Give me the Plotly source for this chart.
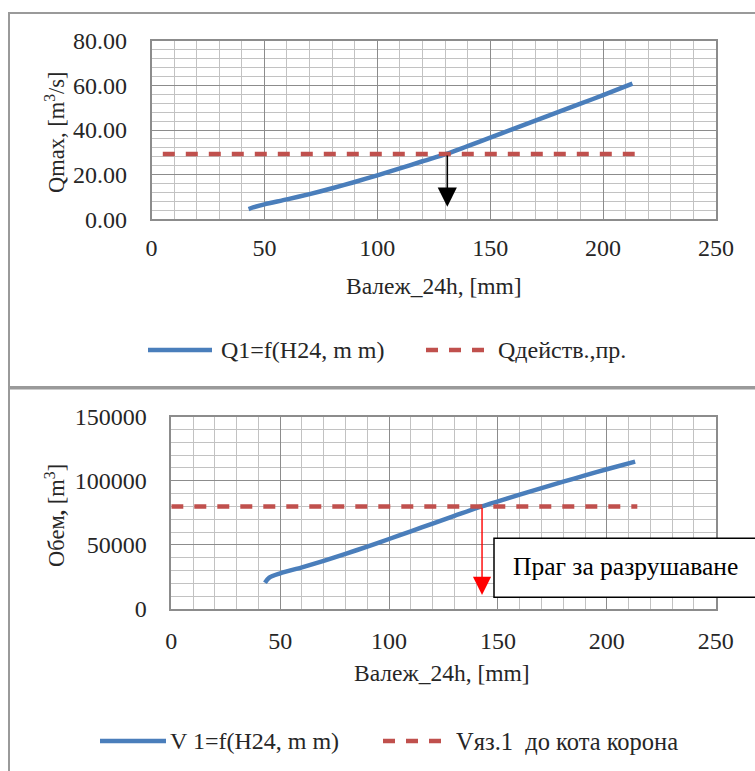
import plotly.graph_objects as go

# ---- data -------------------------------------------------------------
# rainfall over 24 h, mm
rain_q = [43, 45, 50, 60, 70, 80, 90, 100, 110, 120, 131, 140, 150, 160, 170, 180, 190, 200, 213]
# peak discharge Q1, m3/s
q_max = [4.6, 5.3, 6.7, 8.9, 11.3, 13.9, 16.7, 19.7, 22.8, 26.0, 29.4, 32.8, 36.6, 40.4, 44.2, 48.0, 51.8, 55.6, 60.8]
# operating discharge threshold
q_lim_x = [5, 214]
q_lim_y = [29.3, 29.3]
q_cross_x = 131
q_arrow_end = 5.6

rain_v = [43, 45, 50, 60, 70, 80, 90, 100, 110, 120, 130, 142.5, 150, 160, 170, 180, 190, 200, 213]
# flood volume V1, m3
vol = [20500, 24500, 27800, 32500, 37600, 43000, 48700, 54600, 60600, 66600, 72600, 80000,
       84000, 89200, 94300, 99300, 104200, 109000, 115000]
# reservoir volume up to crest level
v_lim_x = [0, 214]
v_lim_y = [80000, 80000]
v_cross_x = 142.7
v_arrow_end = 10900

x_ticks = [0, 50, 100, 150, 200, 250]

# ---- styling ----------------------------------------------------------
W, H = 755, 771
FONT = "Liberation Serif"
BLUE = "#4a7ebb"
RED = "#c0504d"
MAJOR = "#8c8c8c"
MINOR = "#c2c2c2"


def px(x):
    return x / W


def py(y):
    return 1 - y / H


fig = go.Figure()

fig.add_trace(go.Scatter(x=rain_q, y=q_max, mode="lines", xaxis="x", yaxis="y",
                         line=dict(color=BLUE, width=4.5, shape="spline", smoothing=0.8),
                         showlegend=False))
fig.add_trace(go.Scatter(x=q_lim_x, y=q_lim_y, mode="lines", xaxis="x", yaxis="y",
                         line=dict(color=RED, width=4.5, dash="12px,11px"), showlegend=False))
fig.add_trace(go.Scatter(x=rain_v, y=vol, mode="lines", xaxis="x2", yaxis="y2",
                         line=dict(color=BLUE, width=4.5, shape="spline", smoothing=0.8),
                         showlegend=False))
fig.add_trace(go.Scatter(x=v_lim_x, y=v_lim_y, mode="lines", xaxis="x2", yaxis="y2",
                         line=dict(color=RED, width=4.5, dash="12px,11px"), showlegend=False))

axis_common = dict(showline=True, mirror=True, linecolor=MAJOR, linewidth=1.5,
                   showgrid=True, gridcolor=MAJOR, gridwidth=1.3, zeroline=False,
                   ticks="", automargin=False,
                   tickfont=dict(family=FONT, size=24, color="#262626"))

fig.update_layout(
    width=W, height=H, margin=dict(l=0, r=0, t=0, b=0, pad=0, autoexpand=False),
    paper_bgcolor="white", plot_bgcolor="white", showlegend=False,
    font=dict(family=FONT, color="#262626"),
    xaxis=dict(domain=[px(151.5), px(716)], range=[0, 250], tickvals=x_ticks,
               ticklabelstandoff=6, anchor="y",
               minor=dict(dtick=10, tick0=0, showgrid=True, gridcolor=MINOR, gridwidth=1.4),
               **axis_common),
    yaxis=dict(domain=[py(219.3), py(40.7)], range=[0, 80], dtick=20, tickformat=".2f",
               ticklabelstandoff=18, anchor="x",
               minor=dict(dtick=4, tick0=0, showgrid=True, gridcolor=MINOR, gridwidth=1.4),
               **axis_common),
    xaxis2=dict(domain=[px(171.3), px(715.7)], range=[0, 250], tickvals=x_ticks,
                ticklabelstandoff=9, anchor="y2",
                minor=dict(dtick=10, tick0=0, showgrid=True, gridcolor=MINOR, gridwidth=1.4),
                **axis_common),
    yaxis2=dict(domain=[py(609), py(416.7)], range=[0, 150000], dtick=50000, tickformat="d",
                ticklabelstandoff=18, anchor="x2",
                minor=dict(dtick=10000, tick0=0, showgrid=True, gridcolor=MINOR, gridwidth=1.4),
                **axis_common),
)

shapes = [
    # chart frames
    dict(type="rect", xref="paper", yref="paper", x0=px(9), x1=px(800), y0=py(387), y1=py(13),
         line=dict(color="#9a9a9a", width=2), fillcolor="rgba(0,0,0,0)", layer="below"),
    dict(type="rect", xref="paper", yref="paper", x0=px(9), x1=px(800), y0=py(900), y1=py(388.5),
         line=dict(color="#9a9a9a", width=2), fillcolor="rgba(0,0,0,0)", layer="below"),
    # legend samples
    dict(type="line", xref="paper", yref="paper", x0=px(148), x1=px(212), y0=py(350), y1=py(350),
         line=dict(color=BLUE, width=4.5)),
    dict(type="line", xref="paper", yref="paper", x0=px(426), x1=px(487), y0=py(350), y1=py(350),
         line=dict(color=RED, width=4.5, dash="12px,11px")),
    dict(type="line", xref="paper", yref="paper", x0=px(100), x1=px(166), y0=py(741), y1=py(741),
         line=dict(color=BLUE, width=4.5)),
    dict(type="line", xref="paper", yref="paper", x0=px(383), x1=px(444), y0=py(741), y1=py(741),
         line=dict(color=RED, width=4.5, dash="12px,11px")),
    # callout box
    dict(type="rect", xref="paper", yref="paper", x0=px(494), x1=px(800), y0=py(597.3), y1=py(538.3),
         line=dict(color="black", width=1.5), fillcolor="white"),
]
fig.update_layout(shapes=shapes)


def label(text, x, y, size, xanchor="center", **kw):
    return dict(text=text, x=px(x), y=py(y), xref="paper", yref="paper",
                xanchor=xanchor, yanchor="middle", showarrow=False,
                font=dict(size=size, family=FONT, color=kw.pop("color", "#262626")), **kw)


ann = [
    # axis titles
    label("Валеж_24h, [mm]", 433.7, 286, 23.5),
    label("Валеж_24h, [mm]", 442, 672.5, 23.5),
    label("Qmax, [m<sup>3</sup>/s]", 55, 132, 22.5, textangle=-90),
    label("Обем<b>,</b> [m<sup>3</sup>]", 55, 516, 22.5, textangle=-90),
    # legend labels
    label("Q1=f(H24, m m)", 219, 350, 24, xanchor="left"),
    label("Qдейств.,пр.", 496, 350, 24, xanchor="left"),
    label("V 1=f(H24, m m)", 168, 741, 24, xanchor="left"),
    label("Vяз.1  до кота корона", 454, 741, 24.5, xanchor="left"),
    # callout text
    label("Праг за разрушаване", 511, 566, 25.5, xanchor="left", color="black"),
    # threshold arrows
    dict(x=q_cross_x, y=q_arrow_end, ax=q_cross_x, ay=q_lim_y[0], xref="x", yref="y",
         axref="x", ayref="y", text="", showarrow=True, arrowhead=2, arrowsize=2.4,
         arrowwidth=1.6, arrowcolor="black"),
    dict(x=v_cross_x, y=v_arrow_end, ax=v_cross_x, ay=v_lim_y[0], xref="x2", yref="y2",
         axref="x2", ayref="y2", text="", showarrow=True, arrowhead=2, arrowsize=2.6,
         arrowwidth=1.4, arrowcolor="#ff0000"),
]
fig.update_layout(annotations=ann)

fig.write_html("out.html")
